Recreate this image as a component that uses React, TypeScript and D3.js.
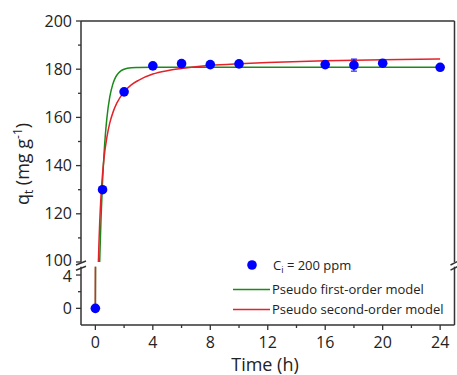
import React from "react";
import * as d3 from "d3";

const timeData = [0, 0.5, 2, 4, 6, 8, 10, 16, 18, 20, 24];
const qData = [0, 130, 170.6, 181.4, 182.3, 181.9, 182.2, 181.9, 181.7, 182.5, 180.8];
const qErr = [0, 0, 0, 0, 0, 0, 0, 0.8, 2.5, 1, 0];

const pfoT = [0, 0.01, 0.3, 0.35, 0.4, 0.5, 0.6, 0.7, 0.8, 1, 1.2, 1.4, 1.6, 1.8, 2, 2.5, 3, 4, 6, 8, 12, 16, 20, 24];
const pfoQ = [0, 4.8, 99.9, 110, 118.9, 133.4, 144.6, 153.1, 159.6, 168.4, 173.5, 176.6, 178.3, 179.4, 180, 180.6, 180.7, 180.8, 180.8, 180.8, 180.8, 180.8, 180.8, 180.8];

const psoT = [0, 0.01, 0.2, 0.25, 0.3, 0.4, 0.5, 0.6, 0.8, 1, 1.25, 1.5, 2, 2.5, 3, 4, 5, 6, 8, 10, 12, 16, 20, 24];
const psoQ = [0, 9.8, 97.7, 108, 116.1, 128.1, 136.6, 143, 151.7, 157.6, 162.5, 166, 170.6, 173.5, 175.4, 178, 179.4, 180.3, 181.6, 182.3, 182.8, 183.5, 183.9, 184.2];

const xMajor = [0, 4, 8, 12, 16, 20, 24];
const xMinor = [2, 6, 10, 14, 18, 22];
const yUpperMajor = [100, 120, 140, 160, 180, 200];
const yUpperMinor = [110, 130, 150, 170, 190];
const yLowerMajor = [0, 4];
const yLowerMinor = [2];

const legendLabels = ["= 200 ppm", "Pseudo first-order model", "Pseudo second-order model"];

const FONT = "'Open Sans', 'Liberation Sans', sans-serif";
const AX = "#333";
const BLUE = "#0000ff";
const GREEN = "#1b8a1b";
const RED = "#e3222a";

export default function App() {
  const L = 81, R = 454.5, T = 21, B = 325;
  const upBot = 262, lowTop = 266.7;
  const x = d3.scaleLinear().domain([-1, 25]).range([L, R]);
  const yU = d3.scaleLinear().domain([100, 200]).range([upBot, T]);
  const yL = d3.scaleLinear().domain([-2, 5]).range([B, lowTop]);

  const mk = (ys: d3.ScaleLinear<number, number>, tt: number[], qq: number[]) =>
    d3.line<number>().x((_, i) => x(tt[i])).y((d) => ys(d)).curve(d3.curveMonotoneX)(qq) || "";

  const yPt = (q: number) => (q >= 100 ? yU(q) : yL(q));

  return (
    <svg width={457} height={375} style={{ position: "absolute", left: 0, top: 0, background: "#fff" }} fontFamily={FONT}>
      <defs>
        <clipPath id="cu"><rect x={L} y={T} width={R - L} height={upBot - T} /></clipPath>
        <clipPath id="cl"><rect x={L} y={lowTop} width={R - L} height={B - lowTop} /></clipPath>
      </defs>

      {/* curves */}
      <g clipPath="url(#cu)" fill="none" strokeWidth={1.5}>
        <path d={mk(yU, pfoT, pfoQ)} stroke={GREEN} />
        <path d={mk(yU, psoT, psoQ)} stroke={RED} />
      </g>
      <g clipPath="url(#cl)" fill="none" strokeWidth={1.5}>
        <path d={mk(yL, pfoT, pfoQ)} stroke={GREEN} />
        <path d={mk(yL, psoT, psoQ)} stroke={RED} />
      </g>

      {/* error bars */}
      {timeData.map((t, i) =>
        qErr[i] > 0 ? (
          <g key={"e" + i} stroke={BLUE} strokeWidth={1}>
            <line x1={x(t)} x2={x(t)} y1={yPt(qData[i] + qErr[i])} y2={yPt(qData[i] - qErr[i])} />
            <line x1={x(t) - 3} x2={x(t) + 3} y1={yPt(qData[i] + qErr[i])} y2={yPt(qData[i] + qErr[i])} />
            <line x1={x(t) - 3} x2={x(t) + 3} y1={yPt(qData[i] - qErr[i])} y2={yPt(qData[i] - qErr[i])} />
          </g>
        ) : null
      )}
      {/* points */}
      {timeData.map((t, i) => (
        <circle key={"p" + i} cx={x(t)} cy={yPt(qData[i])} r={4.8} fill={BLUE} />
      ))}

      {/* frame */}
      <g stroke={AX} strokeWidth={1.5} fill="none">
        <line x1={L} x2={R} y1={T} y2={T} />
        <line x1={L} x2={R} y1={B} y2={B} />
        <line x1={L} x2={L} y1={T} y2={upBot} />
        <line x1={L} x2={L} y1={lowTop} y2={B} />
        <line x1={R} x2={R} y1={T} y2={upBot} />
        <line x1={R} x2={R} y1={lowTop} y2={B} />
        {/* break marks */}
        <line x1={L - 5} x2={L + 5} y1={upBot + 3} y2={upBot - 1} />
        <line x1={L - 5} x2={L + 5} y1={lowTop + 3.5} y2={lowTop - 0.5} />
        <line x1={R - 4} x2={R + 4} y1={upBot + 3} y2={upBot - 1} />
        <line x1={R - 4} x2={R + 4} y1={lowTop + 3.5} y2={lowTop - 0.5} />
      </g>

      {/* ticks */}
      <g stroke={AX} strokeWidth={1.3}>
        {xMajor.map((v) => <line key={"xm" + v} x1={x(v)} x2={x(v)} y1={B} y2={B + 5} />)}
        {xMinor.map((v) => <line key={"xn" + v} x1={x(v)} x2={x(v)} y1={B} y2={B + 3} />)}
        {yUpperMajor.map((v) => <line key={"yum" + v} x1={L - 5} x2={L} y1={yU(v)} y2={yU(v)} />)}
        {yUpperMinor.map((v) => <line key={"yun" + v} x1={L - 3} x2={L} y1={yU(v)} y2={yU(v)} />)}
        {yLowerMajor.map((v) => <line key={"ylm" + v} x1={L - 5} x2={L} y1={yL(v)} y2={yL(v)} />)}
        {yLowerMinor.map((v) => <line key={"yln" + v} x1={L - 3} x2={L} y1={yL(v)} y2={yL(v)} />)}
      </g>
      <g fontSize={16} fill="#222">
        {xMajor.map((v) => (
          <text key={"xt" + v} x={x(v)} y={B + 23} textAnchor="middle">{v}</text>
        ))}
        {yUpperMajor.map((v) => (
          <text key={"yt" + v} x={L - 9} y={v === 100 ? yU(v) - 2 : yU(v)} dy="0.35em" textAnchor="end">{v}</text>
        ))}
        {yLowerMajor.map((v) => (
          <text key={"ylt" + v} x={L - 9} y={v === 4 ? yL(v) + 1.5 : yL(v)} dy="0.35em" textAnchor="end">{v}</text>
        ))}
      </g>

      {/* axis titles */}
      <text x={265} y={371} textAnchor="middle" fontSize={18} fill="#222">Time (h)</text>
      <text transform="translate(29,164) rotate(-90)" textAnchor="middle" fontSize={18} fill="#222">
        q<tspan fontSize={12} dy={4}>t</tspan>
        <tspan dy={-4}> (mg g</tspan>
        <tspan fontSize={12} dy={-7}>-1</tspan>
        <tspan dy={7}>)</tspan>
      </text>

      {/* legend */}
      <circle cx={252} cy={265} r={4.8} fill={BLUE} />
      <text x={273} y={270} fontSize={13} fill="#222">
        C<tspan fontSize={9} dy={3}>i</tspan><tspan dy={-3}> {legendLabels[0]}</tspan>
      </text>
      <line x1={233} x2={270} y1={289.5} y2={289.5} stroke={GREEN} strokeWidth={1.5} />
      <text x={272} y={294} fontSize={13} fill="#222">{legendLabels[1]}</text>
      <line x1={233} x2={270} y1={309.5} y2={309.5} stroke={RED} strokeWidth={1.5} />
      <text x={272} y={314} fontSize={13} fill="#222">{legendLabels[2]}</text>
    </svg>
  );
}
